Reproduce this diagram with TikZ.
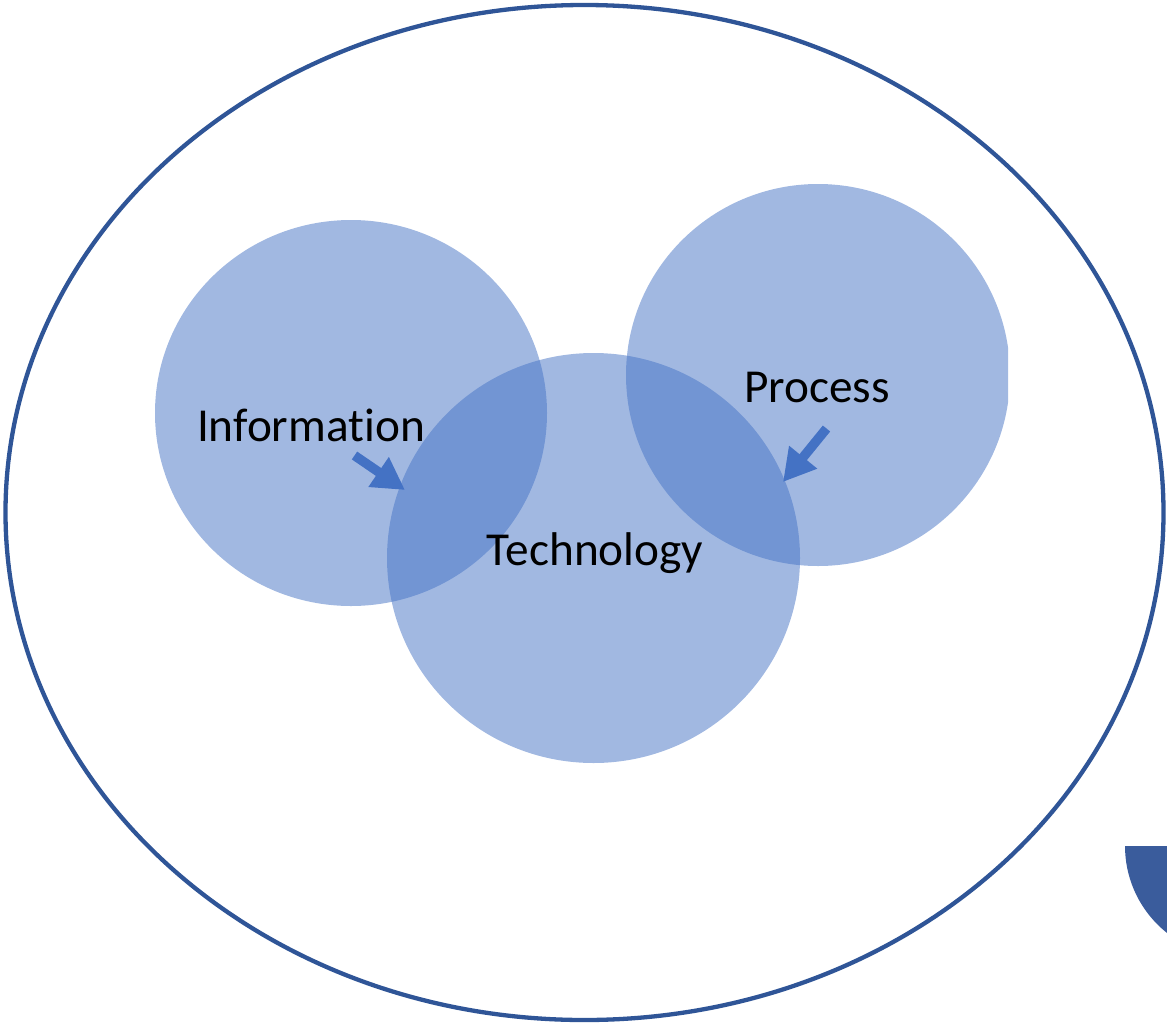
\documentclass[tikz,border=0pt]{standalone}
\usepackage{fontspec}
\setmainfont{Carlito}[Ligatures={NoCommon,NoRequired,NoContextual}]
\usetikzlibrary{arrows.meta}
\definecolor{ringblue}{RGB}{47,85,151}
\definecolor{cirblue}{RGB}{68,114,196}
\definecolor{arrowblue}{RGB}{68,114,196}
\definecolor{blobblue}{RGB}{58,92,156}
\tikzset{
  venn/.style={fill=cirblue, fill opacity=0.5, draw=none},
  lbl/.style={font=\fontsize{47.3}{57}\selectfont, text=black, inner sep=0pt},
  blockarrow/.style={draw=arrowblue, line width=9.5pt, -{Triangle[length=32pt,width=34pt]}, arrowblue}
}
\begin{document}
\begin{tikzpicture}[x=1pt,y=-1pt]
\useasboundingbox (0,0) rectangle (1167,1023);
% outer ellipse
\draw[ringblue, line width=4.3pt] (584.5,512.5) ellipse [x radius=579, y radius=507.5];
% circles
\fill[venn] (351,413) ellipse [x radius=196, y radius=193];
\fill[venn] (593.5,558) ellipse [x radius=206.5, y radius=205];
\begin{scope}
\clip (0,0) rectangle (1008,1023);
\fill[venn] (818,375) ellipse [x radius=192, y radius=191];
\end{scope}
% bottom-right blob
\begin{scope}
\clip (0,0) rectangle (1167,1023);
\fill[blobblue] (1125,846) arc[start angle=180, end angle=0, radius=111] -- cycle;
\end{scope}
% labels
\node[lbl] (info) at (311,425) {Information};
\node[lbl] (proc) at (817,387) {Process};
\node[lbl] (tech) at (595,553) {Technology};
% arrows
\coordinate (a1s) at (354.5,455.5);
\coordinate (a1e) at (405,490);
\coordinate (a2s) at (826.5,428.5);
\coordinate (a2e) at (783,482);
\draw[blockarrow] (a1s) -- (a1e);
\draw[blockarrow] (a2s) -- (a2e);
\end{tikzpicture}
\end{document}
